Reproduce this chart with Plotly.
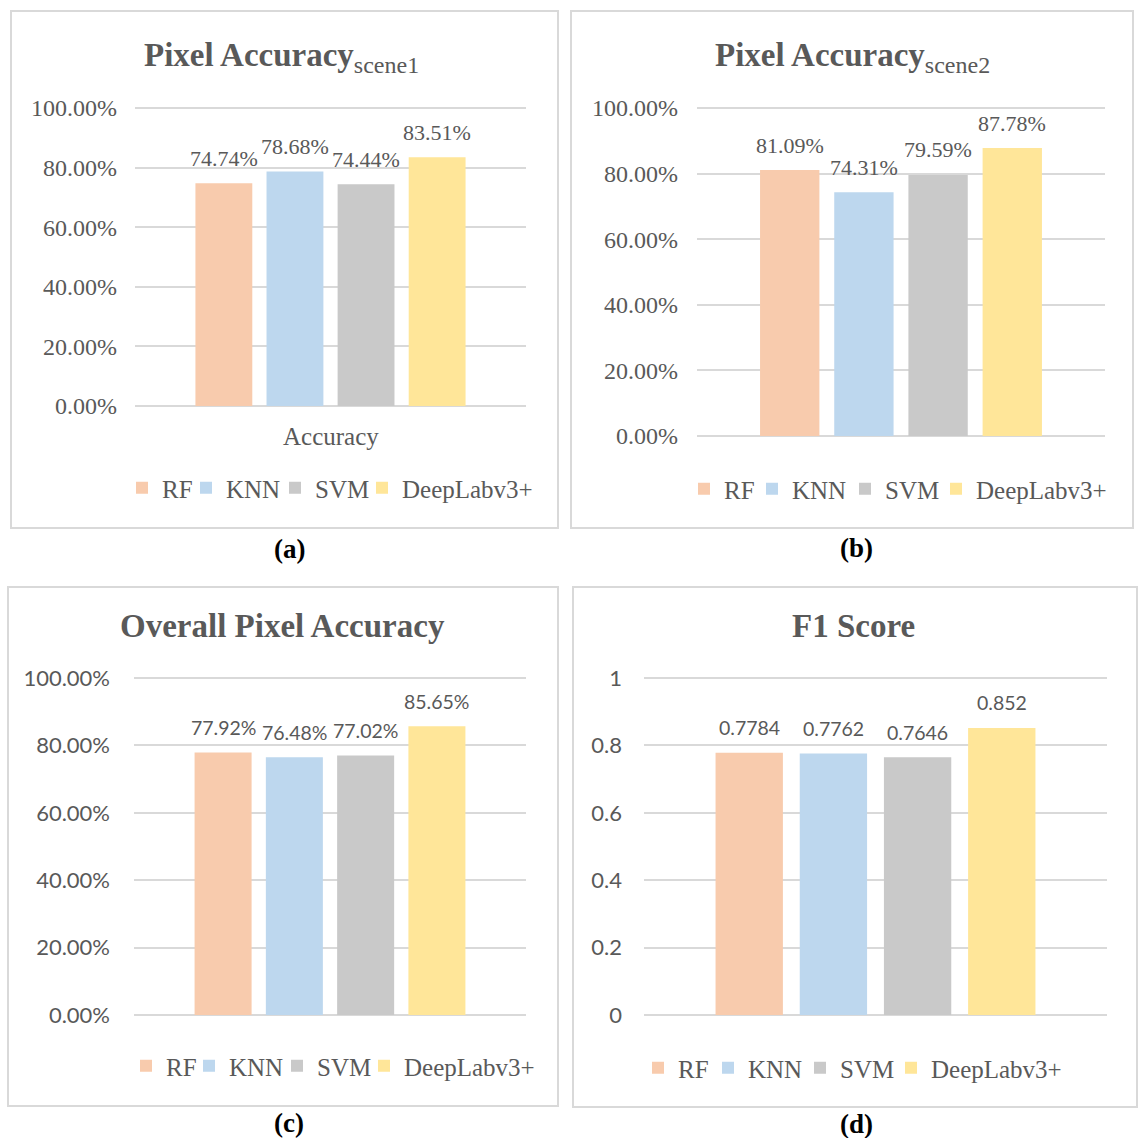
import plotly.graph_objects as go

# Canvas size (px) used to place panels in paper coordinates
W, H = 1141, 1138


def fx(px):
    return px / W


def fy(px):
    return 1 - px / H


# ---- data ----
methods = ["RF", "KNN", "SVM", "DeepLabv3+"]
colors = ["#F8CBAD", "#BDD7EE", "#C9C9C9", "#FFE699"]

pixel_acc_scene1 = [0.7474, 0.7868, 0.7444, 0.8351]
pixel_acc_scene2 = [0.8109, 0.7431, 0.7959, 0.8778]
overall_pixel_acc = [0.7792, 0.7648, 0.7702, 0.8565]
f1_score = [0.7784, 0.7762, 0.7646, 0.852]

y_ticks = [0, 0.2, 0.4, 0.6, 0.8, 1.0]
Y_MAX = 1.01  # a little headroom so the top gridline is drawn

SERIF = "Liberation Serif, Times New Roman, serif"
SANS = "Lato, Open Sans, sans-serif"
TEXT_GRAY = "#595959"
GRID = "#D9D9D9"

panels = [
    dict(values=pixel_acc_scene1,
         title="<b>Pixel Accuracy</b><sub><span style='font-size:24px'>scene1</span></sub>",
         tickfmt=".2%", pct=True, font=SERIF, tsize=24, lsize=22,
         xdom=(135, 526), y0=406, y100=108, box=(11, 11, 558, 528),
         title_xy=(281, 58), legend_y=488, legend_text_x=[160, 224, 313, 400],
         tag="(a)", tag_xy=(289, 549), standoff=17,
         category_label="Accuracy", cat_xy=(331, 436)),
    dict(values=pixel_acc_scene2,
         title="<b>Pixel Accuracy</b><sub><span style='font-size:24px'>scene2</span></sub>",
         tickfmt=".2%", pct=True, font=SERIF, tsize=24, lsize=22,
         xdom=(697, 1105), y0=436, y100=108, box=(571, 11, 1133, 528),
         title_xy=(852, 58), legend_y=489, legend_text_x=[722, 790, 883, 974],
         tag="(b)", tag_xy=(856, 548), standoff=18,
         category_label=None, cat_xy=None),
    dict(values=overall_pixel_acc, title="<b>Overall Pixel Accuracy</b>",
         tickfmt=".2%", pct=True, font=SANS, tsize=22, lsize=19.5,
         xdom=(134, 526), y0=1015, y100=678, box=(8, 587, 558, 1106),
         title_xy=(282, 626), legend_y=1066, legend_text_x=[164, 227, 315, 402],
         tag="(c)", tag_xy=(289, 1123), standoff=23,
         category_label=None, cat_xy=None),
    dict(values=f1_score, title="<b>F1 Score</b>",
         tickfmt="", pct=False, font=SANS, tsize=22, lsize=19.5,
         xdom=(644, 1107), y0=1015, y100=678, box=(573, 587, 1137, 1107),
         title_xy=(853, 626), legend_y=1068, legend_text_x=[676, 746, 838, 929],
         tag="(d)", tag_xy=(856, 1124), standoff=21,
         category_label=None, cat_xy=None),
]

fig = go.Figure()
layout = dict(
    width=W, height=H,
    margin=dict(l=0, r=0, t=0, b=0, autoexpand=False),
    paper_bgcolor="white", plot_bgcolor="white",
    barmode="overlay", bargap=0.2,
    hovermode=False, showlegend=True,
)
shapes = []
annotations = []
legend_count = 0

for n, p in enumerate(panels):
    suffix = "" if n == 0 else str(n + 1)
    xname, yname = "x" + suffix, "y" + suffix

    for i, (m, v, c) in enumerate(zip(methods, p["values"], colors)):
        # one small legend per entry so each key sits where the panel needs it
        legend_count += 1
        legname = "legend" if legend_count == 1 else f"legend{legend_count}"
        fig.add_trace(go.Bar(
            x=[m], y=[v], name=m, marker=dict(color=c, line=dict(width=0)),
            xaxis=xname, yaxis=yname, legend=legname, showlegend=True,
        ))
        layout[legname] = dict(
            orientation="h", xref="paper", yref="paper",
            x=fx(p["legend_text_x"][i] - 38), y=fy(p["legend_y"]),
            xanchor="left", yanchor="middle",
            bgcolor="rgba(0,0,0,0)", visible=True,
            font=dict(family=SERIF, size=25, color=TEXT_GRAY),
        )
        label = f"{v:.2%}" if p["pct"] else f"{v:g}"
        annotations.append(dict(
            x=m, y=v, xref=xname, yref=yname, text=label, showarrow=False,
            yanchor="middle", yshift=25,
            font=dict(family=p["font"], size=p["lsize"], color=TEXT_GRAY),
        ))

    top_px = p["y0"] - (p["y0"] - p["y100"]) * Y_MAX
    layout["xaxis" + suffix] = dict(
        domain=[fx(p["xdom"][0]), fx(p["xdom"][1])], anchor=yname,
        type="category", categoryorder="array", categoryarray=methods,
        range=[-1.25, 4.25], showgrid=False, zeroline=False,
        showticklabels=False, ticks="", showline=False, fixedrange=True,
    )
    layout["yaxis" + suffix] = dict(
        domain=[fy(p["y0"]), fy(top_px)], anchor=xname,
        range=[0, Y_MAX], tickvals=y_ticks, tickformat=p["tickfmt"],
        showgrid=True, gridcolor=GRID, gridwidth=1.5,
        zeroline=True, zerolinecolor=GRID, zerolinewidth=1.5,
        showline=False, ticks="", ticklabelstandoff=p["standoff"],
        tickfont=dict(family=p["font"], size=p["tsize"], color=TEXT_GRAY),
        fixedrange=True,
    )

    x0, y0, x1, y1 = p["box"]
    shapes.append(dict(
        type="rect", xref="paper", yref="paper",
        x0=fx(x0), x1=fx(x1), y0=fy(y1), y1=fy(y0),
        line=dict(color=GRID, width=2), fillcolor="rgba(0,0,0,0)", layer="below",
    ))

    annotations.append(dict(
        x=fx(p["title_xy"][0]), y=fy(p["title_xy"][1]), xref="paper", yref="paper",
        text=p["title"], showarrow=False,
        xanchor="center", yanchor="middle",
        font=dict(family=SERIF, size=33, color=TEXT_GRAY),
    ))
    annotations.append(dict(
        x=fx(p["tag_xy"][0]), y=fy(p["tag_xy"][1]), xref="paper", yref="paper",
        text=f"<b>{p['tag']}</b>", showarrow=False,
        xanchor="center", yanchor="middle",
        font=dict(family=SERIF, size=27, color="black"),
    ))
    if p["category_label"]:
        annotations.append(dict(
            x=fx(p["cat_xy"][0]), y=fy(p["cat_xy"][1]), xref="paper", yref="paper",
            text=p["category_label"], showarrow=False,
            xanchor="center", yanchor="middle",
            font=dict(family=SERIF, size=25, color=TEXT_GRAY),
        ))

layout["shapes"] = shapes
layout["annotations"] = annotations
fig.update_layout(**layout)

fig.write_html("out.html")
